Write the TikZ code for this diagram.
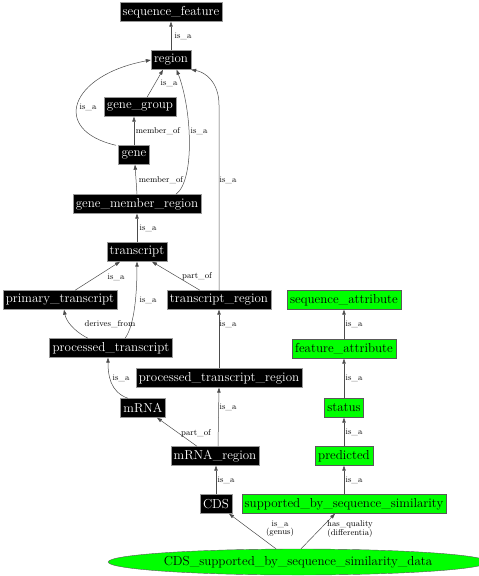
\documentclass[tikz,border=0pt]{standalone}
\usepackage{tikz}
\usetikzlibrary{arrows.meta,shapes.geometric}

\definecolor{attrgreen}{RGB}{0,255,0}
\tikzset{
  term/.style={draw=gray!80, fill=black, text=white, font=\fontsize{13}{15}\selectfont,
    inner xsep=3pt, inner ysep=0pt, minimum height=19pt},
  attr/.style={draw=black!65, fill=attrgreen, text=black, font=\fontsize{13}{15}\selectfont,
    inner xsep=3pt, inner ysep=0pt, minimum height=19pt},
  rel/.style={draw=black!70, line width=0.5pt, -{Triangle[length=5pt,width=3.5pt]}},
  lbl/.style={font=\fontsize{8.5}{8}\selectfont, inner sep=0pt, align=center}
}

\begin{document}
\begin{tikzpicture}[x=1pt,y=-1pt]
  \useasboundingbox (0,0) rectangle (479,576);
  % terms
  \node[term] (seqfeat) at (171,12) {sequence\_feature};
  \node[term] (region) at (171,60) {region};
  \node[term] (genegroup) at (140,107) {gene\_group};
  \node[term] (gene) at (134,155) {gene};
  \node[term] (gmr) at (137,204) {gene\_member\_region};
  \node[term] (transcript) at (137,252) {transcript};
  \node[term] (primary) at (60,300) {primary\_transcript};
  \node[term] (trregion) at (219,300) {transcript\_region};
  \node[term] (processed) at (111,348) {processed\_transcript};
  \node[term] (ptregion) at (219,378) {processed\_transcript\_region};
  \node[term] (mrna) at (143,408) {mRNA};
  \node[term] (mrnaregion) at (215,456) {mRNA\_region};
  \node[term] (cds) at (216,504) {CDS};
  % attributes
  \node[attr] (seqattr) at (344,300) {sequence\_attribute};
  \node[attr] (featattr) at (344,349) {feature\_attribute};
  \node[attr] (status) at (344,408) {status};
  \node[attr] (predicted) at (344,456) {predicted};
  \node[attr] (supported) at (344,504) {supported\_by\_sequence\_similarity};
  \node[attr, ellipse, minimum width=357pt, minimum height=26pt, inner sep=0pt]
    (cdsdata) at (298,562) {CDS\_supported\_by\_sequence\_similarity\_data};

  % relations
  \draw[rel] (region) -- (seqfeat);
  \node[lbl] (l1) at (183,36) {is\_a};
  \draw[rel] ([xshift=7pt]genegroup.north) -- ([xshift=-8pt]region.south);
  \node[lbl] (l2) at (169,83) {is\_a};
  \draw[rel] ([xshift=-18pt]gene.north) .. controls (50,130) and (70,75) .. (region.west);
  \node[lbl] (l3) at (88,107) {is\_a};
  \draw[rel] (gene.north) -- ([xshift=-6pt]genegroup.south);
  \node[lbl] (l4) at (158,131) {member\_of};
  \draw[rel] (gmr.north) -- ([xshift=1pt]gene.south);
  \node[lbl] (l5) at (161,180) {member\_of};
  \draw[rel] ([xshift=39pt]gmr.north) .. controls (195,180) and (192,110) .. (region.-60);
  \node[lbl] (l6) at (199,131) {is\_a};
  \draw[rel] (trregion.north) -- (219,105) .. controls (219,82) and (205,72) .. (region.south east);
  \node[lbl] (l7) at (228,180) {is\_a};
  \draw[rel] (transcript) -- (gmr);
  \node[lbl] (l8) at (148,228) {is\_a};
  \draw[rel] ([xshift=15pt]primary.north) -- ([xshift=-17pt]transcript.south);
  \node[lbl] (l9) at (116,277) {is\_a};
  \draw[rel] ([xshift=14pt]processed.north) .. controls (135,325) and (137,290) .. (transcript.south);
  \node[lbl] (l10) at (148,300) {is\_a};
  \draw[rel] ([xshift=-19pt]trregion.north) -- ([xshift=15pt]transcript.south);
  \node[lbl] (l11) at (197,276) {part\_of};
  \draw[rel] ([xshift=-23pt]processed.north) .. controls (72,330) and (66,320) .. ([xshift=4pt]primary.south);
  \node[lbl] (l12) at (110,324) {derives\_from};
  \draw[rel] ([xshift=-15pt]mrna.north) .. controls (110,392) and (108,375) .. ([xshift=-3pt]processed.south);
  \node[lbl] (l13) at (121,378) {is\_a};
  \draw[rel] (ptregion) -- (trregion);
  \node[lbl] (l14) at (228,324) {is\_a};
  \draw[rel] ([xshift=3pt]mrnaregion.north) -- (ptregion.south);
  \node[lbl] (l15) at (228,407) {is\_a};
  \draw[rel] ([xshift=-18pt]mrnaregion.north) -- ([xshift=14pt]mrna.south);
  \node[lbl] (l16) at (196,433) {part\_of};
  \draw[rel] (cds.north) -- ([xshift=1pt]mrnaregion.south);
  \node[lbl] (l17) at (226,480) {is\_a};
  \draw[rel] (featattr) -- (seqattr);
  \node[lbl] (l18) at (354,324) {is\_a};
  \draw[rel] (status) -- (featattr);
  \node[lbl] (l19) at (354,378) {is\_a};
  \draw[rel] (predicted) -- (status);
  \node[lbl] (l20) at (354,432) {is\_a};
  \draw[rel] (supported) -- (predicted);
  \node[lbl] (l21) at (354,480) {is\_a};
  \draw[rel] ([xshift=-22pt]cdsdata.north) -- ([xshift=13pt]cds.south);
  \node[lbl] (l22) at (280,529) {is\_a\\(genus)};
  \draw[rel] ([xshift=3pt]cdsdata.north) -- ([xshift=-9pt]supported.south);
  \node[lbl] (l23) at (350,529) {has\_quality\\(differentia)};
\end{tikzpicture}
\end{document}
